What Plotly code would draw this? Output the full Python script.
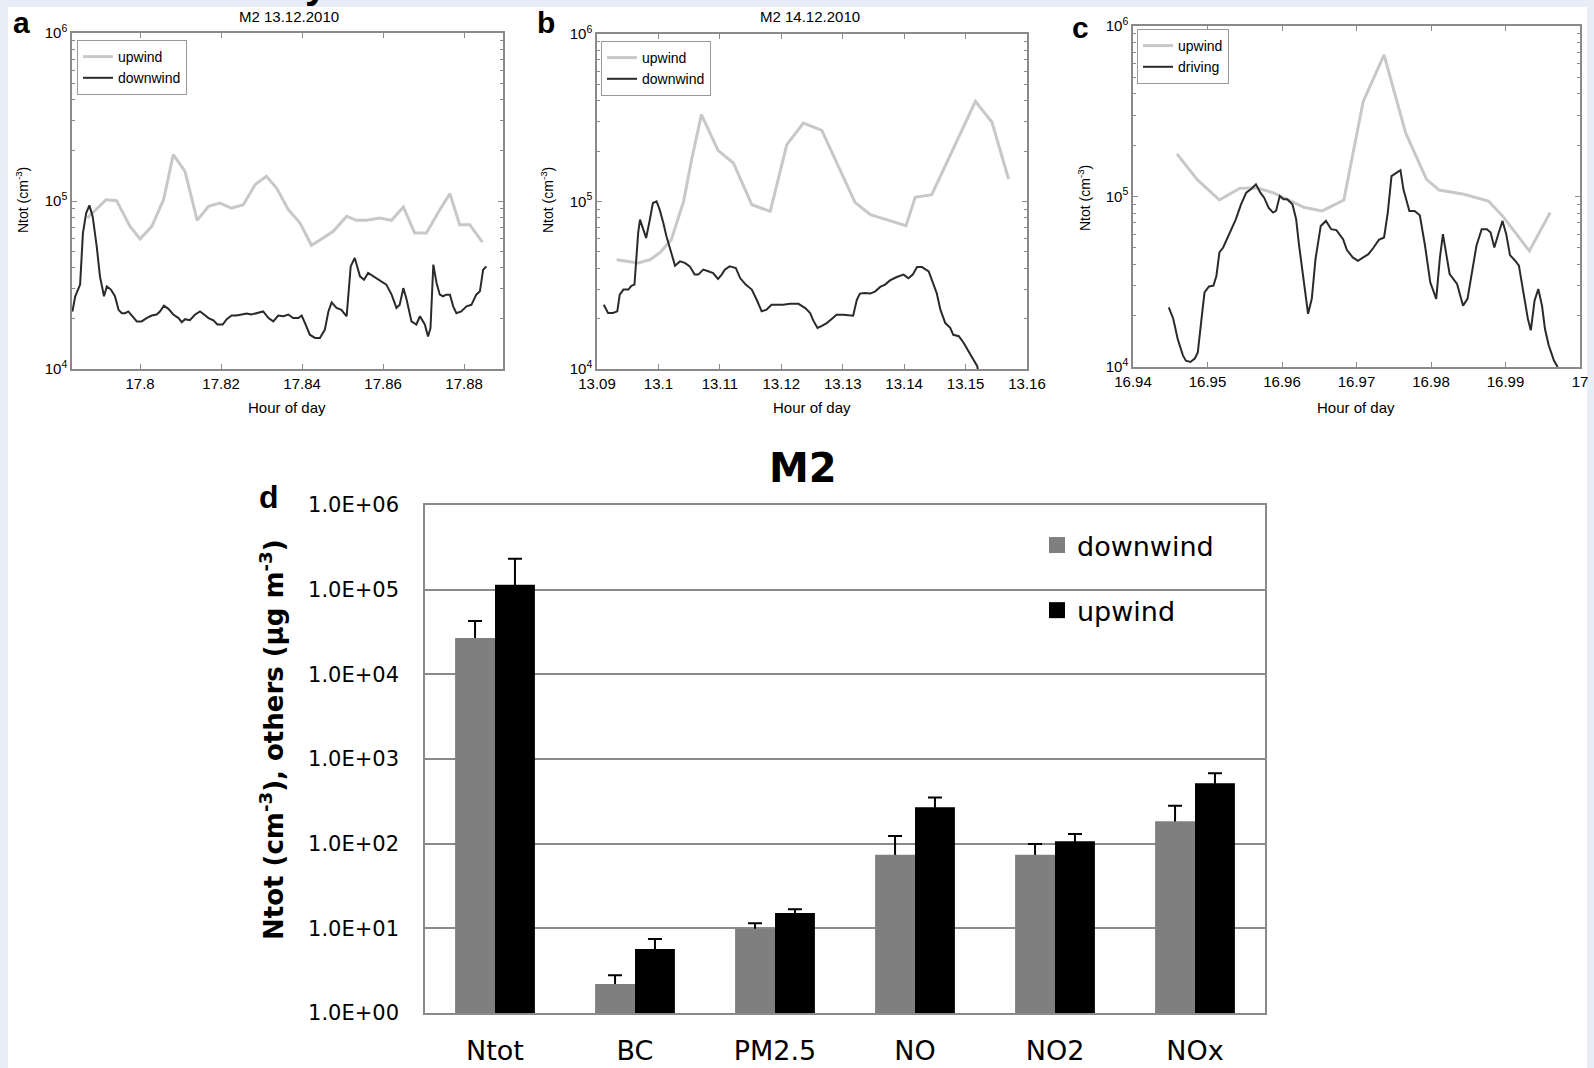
import plotly.graph_objects as go

W, H = 1594, 1068
def px(x):
    return x / W
def py(y):
    return 1 - y / H

# ---------------- panel a (M2 13.12.2010) ----------------
a_up_x = [17.7870, 17.7916, 17.7942, 17.7975, 17.8000, 17.8029, 17.8058, 17.8082, 17.8111, 17.8141,
          17.8169, 17.8197, 17.8226, 17.8255, 17.8284, 17.8312, 17.8337, 17.8366, 17.8395, 17.8423,
          17.8452, 17.8477, 17.8510, 17.8534, 17.8559, 17.8592, 17.8621, 17.8650, 17.8678, 17.8707,
          17.8740, 17.8765, 17.8789, 17.8814, 17.8845]
a_up_y = [79200, 101800, 100500, 70700, 59400, 70700, 101800, 188700, 150200, 76700,
          92900, 97300, 90800, 95100, 125100, 140200, 119500, 88800, 73900, 54500,
          60200, 66000, 81100, 76700, 76700, 79200, 76700, 92100, 64500, 64500,
          88800, 110600, 72300, 72300, 57000]
a_dn_x = [17.7833, 17.7840, 17.7852, 17.7859, 17.7867, 17.7875, 17.7883, 17.7893, 17.7901, 17.7911,
          17.7918, 17.7928, 17.7938, 17.7947, 17.7955, 17.7963, 17.7971, 17.7982, 17.7992, 17.8004,
          17.8016, 17.8029, 17.8041, 17.8049, 17.8059, 17.8070, 17.8082, 17.8095, 17.8103, 17.8111,
          17.8123, 17.8136, 17.8148, 17.8158, 17.8169, 17.8181, 17.8191, 17.8204, 17.8214, 17.8226,
          17.8238, 17.8251, 17.8263, 17.8275, 17.8288, 17.8304, 17.8317, 17.8329, 17.8341, 17.8354,
          17.8366, 17.8378, 17.8391, 17.8399, 17.8407, 17.8419, 17.8432, 17.8444, 17.8456, 17.8465,
          17.8473, 17.8485, 17.8497, 17.8510, 17.8520, 17.8530, 17.8543, 17.8553, 17.8563, 17.8576,
          17.8592, 17.8608, 17.8621, 17.8633, 17.8641, 17.8650, 17.8658, 17.8670, 17.8682, 17.8691,
          17.8703, 17.8711, 17.8717, 17.8724, 17.8732, 17.8740, 17.8748, 17.8756, 17.8765, 17.8773,
          17.8781, 17.8793, 17.8806, 17.8818, 17.8830, 17.8839, 17.8847, 17.8855]
a_dn_y = [22000, 27100, 31800, 64500, 84800, 94200, 81000, 53700, 35600, 27100,
          31000, 29700, 27100, 22500, 21500, 21500, 22000, 20600, 19200, 19200,
          20100, 20800, 21100, 22000, 23800, 22800, 21100, 20100, 19000, 19800,
          19500, 21100, 22000, 21100, 20100, 19500, 18400, 18400, 19800, 20800,
          20800, 21100, 21400, 21100, 21400, 22000, 20100, 19200, 20800, 20600,
          21100, 20100, 20100, 20800, 18800, 16000, 15300, 15300, 17100, 22000,
          24900, 23100, 22500, 20600, 40800, 45800, 35600, 34000, 37300, 35600,
          34000, 31800, 27700, 23100, 24100, 30300, 25900, 19200, 18400, 20600,
          18400, 15600, 17500, 41800, 32500, 27700, 27100, 27700, 27700, 23600,
          21500, 22000, 23600, 24100, 27700, 29000, 39000, 40800]
a_xticks = [17.80, 17.82, 17.84, 17.86, 17.88]
a_xlabels = ["17.8", "17.82", "17.84", "17.86", "17.88"]

# ---------------- panel b (M2 14.12.2010) ----------------
b_up_x = [13.0932, 13.0948, 13.0967, 13.0986, 13.1002, 13.1021, 13.1041, 13.1054, 13.1070, 13.1097,
          13.1122, 13.1152, 13.1182, 13.1209, 13.1236, 13.1266, 13.1320, 13.1345, 13.1403, 13.1418,
          13.1445, 13.1516, 13.1543, 13.1570]
b_up_y = [44900, 43900, 43000, 44900, 49300, 59200, 100200, 177700, 330000, 202000,
          169800, 95700, 87400, 218500, 294000, 266000, 98900, 83500, 71700, 105900,
          109800, 396000, 297000, 136200]
b_dn_x = [13.0911, 13.0918, 13.0926, 13.0933, 13.0937, 13.0943, 13.0951, 13.0956, 13.0961, 13.0967,
          13.0970, 13.0975, 13.0980, 13.0986, 13.0991, 13.0997, 13.1002, 13.1008, 13.1013, 13.1021,
          13.1027, 13.1035, 13.1043, 13.1051, 13.1059, 13.1065, 13.1073, 13.1081, 13.1089, 13.1097,
          13.1103, 13.1108, 13.1116, 13.1126, 13.1133, 13.1142, 13.1152, 13.1160, 13.1168, 13.1176,
          13.1184, 13.1192, 13.1203, 13.1214, 13.1228, 13.1239, 13.1247, 13.1252, 13.1259, 13.1266,
          13.1274, 13.1282, 13.1290, 13.1301, 13.1312, 13.1317, 13.1323, 13.1328, 13.1336, 13.1345,
          13.1353, 13.1361, 13.1369, 13.1377, 13.1388, 13.1399, 13.1407, 13.1414, 13.1421, 13.1429,
          13.1440, 13.1445, 13.1453, 13.1459, 13.1467, 13.1475, 13.1480, 13.1489, 13.1497, 13.1505,
          13.1513, 13.1519, 13.1520]
b_dn_y = [24200, 21600, 21600, 22100, 27800, 29800, 29800, 31400, 31900, 64900,
          77900, 67900, 60600, 77900, 97900, 100200, 89400, 74400, 62000, 49300,
          41400, 43900, 43000, 41000, 36600, 36600, 39200, 38300, 37400, 34500,
          36600, 39200, 41000, 40100, 34900, 31900, 29800, 25900, 22100, 22600,
          24200, 24200, 24200, 24500, 24500, 23100, 21600, 19500, 17600, 18100,
          18800, 19900, 21100, 21100, 20800, 20800, 25900, 28200, 28400, 28200,
          29100, 30900, 31900, 33800, 35400, 36600, 34800, 36600, 40600, 40600,
          38300, 34100, 28400, 22600, 18800, 17600, 16000, 15700, 14300, 12700,
          11400, 10400, 9900]
b_xticks = [13.09, 13.10, 13.11, 13.12, 13.13, 13.14, 13.15, 13.16]
b_xlabels = ["13.09", "13.1", "13.11", "13.12", "13.13", "13.14", "13.15", "13.16"]

# ---------------- panel c ----------------
c_up_x = [16.9459, 16.9486, 16.9516, 16.9543, 16.9566, 16.9588, 16.9607, 16.9630, 16.9654, 16.9683,
          16.9709, 16.9737, 16.9766, 16.9794, 16.9811, 16.9844, 16.9877, 16.9896, 16.9932, 16.9960]
c_up_y = [177900, 126000, 95400, 111600, 112600, 105300, 96300, 86100, 82300, 95400,
          361000, 677000, 236000, 126000, 109100, 103000, 94100, 76900, 48000, 80500]
c_dr_x = [16.9448, 16.9454, 16.9460, 16.9467, 16.9471, 16.9477, 16.9483, 16.9487, 16.9492, 16.9496,
          16.9502, 16.9508, 16.9512, 16.9516, 16.9521, 16.9526, 16.9533, 16.9538, 16.9545, 16.9552,
          16.9559, 16.9565, 16.9571, 16.9576, 16.9582, 16.9588, 16.9592, 16.9597, 16.9602, 16.9607,
          16.9614, 16.9619, 16.9623, 16.9629, 16.9635, 16.9640, 16.9645, 16.9652, 16.9659, 16.9666,
          16.9673, 16.9682, 16.9687, 16.9695, 16.9702, 16.9709, 16.9716, 16.9723, 16.9730, 16.9737,
          16.9742, 16.9747, 16.9754, 16.9759, 16.9763, 16.9771, 16.9778, 16.9785, 16.9792, 16.9799,
          16.9807, 16.9812, 16.9816, 16.9820, 16.9825, 16.9835, 16.9843, 16.9849, 16.9855, 16.9861,
          16.9868, 16.9875, 16.9880, 16.9885, 16.9891, 16.9896, 16.9901, 16.9906, 16.9913, 16.9918,
          16.9924, 16.9930, 16.9934, 16.9939, 16.9944, 16.9949, 16.9953, 16.9958, 16.9965, 16.9970]
c_dr_y = [22400, 19200, 14600, 11700, 10900, 10700, 11200, 12200, 19200, 27400,
          29700, 30000, 34300, 47000, 50200, 56200, 67200, 73500, 90000, 105300,
          111100, 117800, 105300, 98400, 86100, 80500, 82300, 100700, 96300, 96300,
          90000, 73500, 51400, 31400, 20500, 25100, 43000, 67200, 71900, 64300,
          63500, 56200, 48700, 43900, 42000, 43900, 45900, 50200, 55700, 57500,
          80500, 131800, 137800, 142800, 110100, 82300, 82300, 77600, 51400, 31400,
          25100, 43900, 60100, 47000, 35100, 30700, 22900, 25100, 35900, 51400,
          64300, 64300, 61500, 50200, 61500, 71900, 60100, 45300, 42000, 39300,
          27400, 19200, 16400, 24500, 28700, 22900, 16700, 13400, 10900, 10000]
c_xticks = [16.94, 16.95, 16.96, 16.97, 16.98, 16.99, 17.00]
c_xlabels = ["16.94", "16.95", "16.96", "16.97", "16.98", "16.99", "17"]

log_ticks = [1e4, 1e5, 1e6]
log_labels = ["10<sup>4</sup>", "10<sup>5</sup>", "10<sup>6</sup>"]

# ---------------- panel d (M2 bar chart) ----------------
d_categories = ["Ntot", "BC", "PM2.5", "NO", "NO2", "NOx"]
d_down = [26800, 2.2, 9.9, 74, 74, 184]
d_down_hi = [42700, 2.8, 11.5, 123, 99, 281]
d_up = [114500, 5.7, 15.2, 269, 107, 517]
d_up_hi = [232000, 7.5, 16.8, 350, 130, 678]
d_yticks = [1, 10, 100, 1000, 10000, 100000, 1000000]
d_ylabels = ["1.0E+00", "1.0E+01", "1.0E+02", "1.0E+03", "1.0E+04", "1.0E+05", "1.0E+06"]

SANS = "Liberation Sans, Arial, sans-serif"
DJV = "DejaVu Sans, sans-serif"
LIGHT = "#c8c8c8"
DARK = "#2a2a2a"
AX = "#8a8a8a"
GRAYBAR = "#7f7f7f"

fig = go.Figure()

def add_pair(xu, yu, xd, yd, name2, ax, leg):
    fig.add_trace(go.Scatter(x=xu, y=yu, mode="lines", name="upwind",
                             line=dict(color=LIGHT, width=3),
                             xaxis="x" + ax, yaxis="y" + ax, legend=leg))
    fig.add_trace(go.Scatter(x=xd, y=yd, mode="lines", name=name2,
                             line=dict(color=DARK, width=2),
                             xaxis="x" + ax, yaxis="y" + ax, legend=leg))

add_pair(a_up_x, a_up_y, a_dn_x, a_dn_y, "downwind", "", "legend")
add_pair(b_up_x, b_up_y, b_dn_x, b_dn_y, "downwind", "2", "legend2")
add_pair(c_up_x, c_up_y, c_dr_x, c_dr_y, "driving", "3", "legend3")

# error bars first (on transparent bars), so the coloured bars hide their lower part
for vals, hi, grp in ((d_down, d_down_hi, "dn"), (d_up, d_up_hi, "up")):
    fig.add_trace(go.Bar(x=d_categories, y=vals, offsetgroup=grp,
                         marker=dict(color="rgba(0,0,0,0)", line=dict(width=0)),
                         error_y=dict(type="data", symmetric=False,
                                      array=[h - v for h, v in zip(hi, vals)],
                                      arrayminus=[v * 0.4 for v in vals],
                                      color="black", thickness=2, width=7),
                         xaxis="x4", yaxis="y4", showlegend=False, hoverinfo="skip"))
fig.add_trace(go.Bar(x=d_categories, y=d_down, offsetgroup="dn", name="downwind",
                     marker=dict(color=GRAYBAR, line=dict(width=0)),
                     xaxis="x4", yaxis="y4", showlegend=False))
fig.add_trace(go.Bar(x=d_categories, y=d_up, offsetgroup="up", name="upwind",
                     marker=dict(color="#000000", line=dict(width=0)),
                     xaxis="x4", yaxis="y4", showlegend=False))
# legend entries for panel d
fig.add_trace(go.Scatter(x=[None], y=[None], mode="markers", name="downwind",
                         marker=dict(symbol="square", size=16, color=GRAYBAR),
                         xaxis="x4", yaxis="y4", legend="legend4", legendgroup="g1"))
fig.add_trace(go.Scatter(x=[None], y=[None], mode="markers", name="upwind",
                         marker=dict(symbol="square", size=16, color="#000000"),
                         xaxis="x4", yaxis="y4", legend="legend4", legendgroup="g2"))

minor_vals = [m * 10 ** e for e in (4, 5) for m in range(2, 10)]

def top_x(dom, rng, tv, tt, anchor):
    return dict(domain=dom, range=rng, tickvals=tv, ticktext=tt, anchor=anchor,
                ticks="inside", ticklen=5, tickcolor=AX, tickwidth=1,
                showline=True, linecolor=AX, linewidth=1.5, mirror="ticks",
                showgrid=False, zeroline=False,
                tickfont=dict(family=SANS, size=15, color="black"))

def top_y(dom, anchor):
    return dict(domain=dom, type="log", range=[4, 6], tickvals=log_ticks, ticktext=log_labels,
                anchor=anchor, ticks="inside", ticklen=5, tickcolor=AX, tickwidth=1,
                minor=dict(tickvals=minor_vals, ticks="inside", ticklen=3, tickcolor=AX),
                showline=True, linecolor=AX, linewidth=1.5, mirror="ticks",
                showgrid=False, zeroline=False,
                tickfont=dict(family=SANS, size=15, color="black"))

def box_legend(x, y):
    return dict(x=px(x), y=py(y), xanchor="left", yanchor="top",
                bgcolor="white", bordercolor="#999999", borderwidth=1,
                font=dict(family=SANS, size=14, color="black"), tracegroupgap=0)

fig.update_layout(
    width=W, height=H, autosize=False,
    margin=dict(l=0, r=0, t=0, b=0, pad=0, autoexpand=False),
    paper_bgcolor="#e8eef7", plot_bgcolor="white",
    barmode="group", bargap=0.43, bargroupgap=0,
    xaxis=top_x([px(72), px(503)], [17.7832, 17.8896], a_xticks, a_xlabels, "y"),
    yaxis=top_y([py(369), py(33)], "x"),
    xaxis2=top_x([px(597), px(1027)], [13.09, 13.16], b_xticks, b_xlabels, "y2"),
    yaxis2=top_y([py(369), py(34)], "x2"),
    xaxis3=top_x([px(1133), px(1580)], [16.94, 17.0], c_xticks, c_xlabels, "y3"),
    yaxis3=top_y([py(367), py(26)], "x3"),
    xaxis4=dict(domain=[px(425), px(1265)], anchor="y4", type="category",
                showline=True, linecolor=AX, linewidth=1.5, mirror=True,
                ticks="", showgrid=False, ticklabelstandoff=13,
                tickfont=dict(family=DJV, size=27, color="black")),
    yaxis4=dict(domain=[py(1013), py(505)], anchor="x4", type="log", range=[0, 6],
                tickvals=d_yticks, ticktext=d_ylabels, ticks="", ticklabelstandoff=20,
                showgrid=True, gridcolor=AX, gridwidth=1.5,
                showline=True, linecolor=AX, linewidth=1.5, mirror=True, zeroline=False,
                tickfont=dict(family=DJV, size=21, color="black")),
    legend=box_legend(77, 40),
    legend2=box_legend(601, 41),
    legend3=box_legend(1137, 29),
    legend4=dict(x=px(1037), y=py(521), xanchor="left", yanchor="top",
                 bgcolor="rgba(0,0,0,0)", borderwidth=0, tracegroupgap=27,
                 font=dict(family=DJV, size=27, color="black")),
    shapes=[dict(type="rect", xref="paper", yref="paper", x0=px(8), x1=px(1587),
                 y0=0, y1=py(7), fillcolor="white", line=dict(width=0), layer="below")],
    showlegend=True,
)

ann = []
def text(x, y, s, size, family=SANS, bold=False, angle=0, xanchor="center", yanchor="middle"):
    ann.append(dict(x=px(x), y=py(y), xref="paper", yref="paper", text=("<b>%s</b>" % s) if bold else s,
                    showarrow=False, textangle=angle, xanchor=xanchor, yanchor=yanchor,
                    font=dict(family=family, size=size, color="black")))

# panel titles and labels
text(289, 17, "M2 13.12.2010", 15)
text(810, 17, "M2 14.12.2010", 15)
text(21, 23, "a", 30, bold=True)
text(546, 23, "b", 30, bold=True)
text(1080, 27, "c", 30, bold=True)
text(269, 497, "d", 32, bold=True)
for cx in (287, 812, 1356):
    text(cx, 407, "Hour of day", 15)
text(22, 200, "Ntot (cm<sup>-3</sup>)", 14, angle=-90)
text(547, 200, "Ntot (cm<sup>-3</sup>)", 14, angle=-90)
text(1084, 198, "Ntot (cm<sup>-3</sup>)", 14, angle=-90)
text(803, 468, "M2", 40, family=DJV, bold=True)
text(272, 740, "Ntot (cm<sup>-3</sup>), others (µg m<sup>-3</sup>)", 26, family=DJV, bold=True, angle=-90)
# cut-off heading fragment at very top
text(316, 8, "y", 40, bold=True, yanchor="bottom")
fig.update_layout(annotations=ann)

fig.write_html("out.html")
